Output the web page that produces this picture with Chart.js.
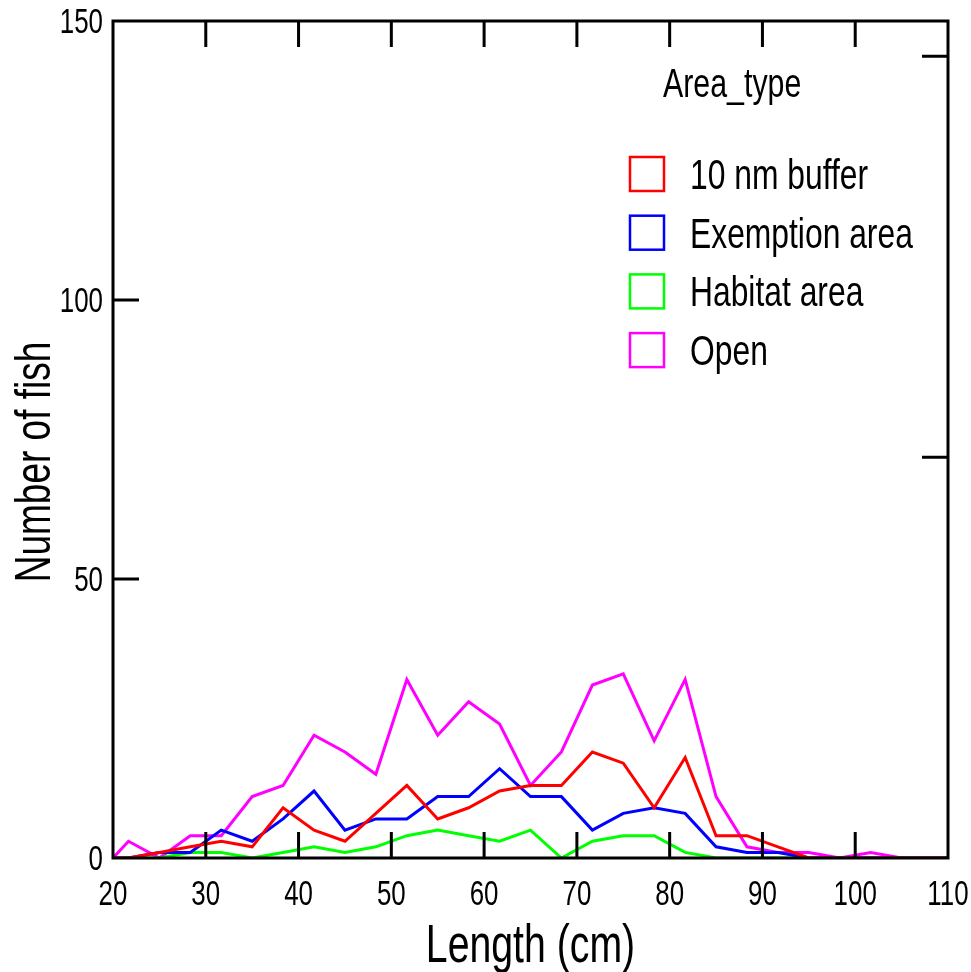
<!DOCTYPE html>
<html>
<head>
<meta charset="utf-8">
<script src="https://cdn.jsdelivr.net/npm/chart.js@4/dist/chart.umd.min.js"></script>
<style>
    html, body { margin: 0; padding: 0; background: #fff; }
    #wrap { width: 971px; height: 972px; }
</style>
</head>
<body>
<div id="wrap"><canvas id="lengthChart" width="971" height="972"></canvas></div>
<script>
// ─────────────────────────────────────────────
// DATA
// ─────────────────────────────────────────────
const lengths = [20, 21.67, 25, 28.33, 31.67, 35, 38.33, 41.67, 45, 48.33, 51.67, 55, 58.33,
    61.67, 65, 68.33, 71.67, 75, 78.33, 81.67, 85, 88.33, 91.67, 95, 98.33, 101.67, 105, 108.33, 110];

const buffer10nm = [0, 0, 1, 2, 3, 2, 9, 5, 3, 8, 13, 7, 9, 12, 13, 13, 19, 17, 9, 18, 4, 4, 2, 0, 0, 0, 0, 0, 0];
const exemption  = [0, 0, 1, 1, 5, 3, 7, 12, 5, 7, 7, 11, 11, 16, 11, 11, 5, 8, 9, 8, 2, 1, 1, 0, 0, 0, 0, 0, 0];
const habitat    = [0, 0, 0, 1, 1, 0, 1, 2, 1, 2, 4, 5, 4, 3, 5, 0, 3, 4, 4, 1, 0, 0, 0, 0, 0, 0, 0, 0, 0];
const openArea   = [0, 3, 0, 4, 4, 11, 13, 22, 19, 15, 32, 22, 28, 24, 13, 19, 31, 33, 21, 32, 11, 2, 1, 1, 0, 1, 0, 0, 0];

const seriesLabels = ['10 nm buffer', 'Exemption area', 'Habitat area', 'Open'];
const seriesColors = ['#ff0000', '#0000ff', '#00ff00', '#ff00ff'];

const xLabels = [20, 30, 40, 50, 60, 70, 80, 90, 100, 110];
const yLabels = [0, 50, 100, 150];
const xTicks = [30, 40, 50, 60, 70, 80, 90, 100];
const yTicks = [50, 100];
const rightTicks = [71.8, 143.7];

// narrow look: Liberation Sans squeezed horizontally
const FONT = "'Liberation Sans', Arial, sans-serif";
const SQUEEZE = 0.74;

function toPoints(values) {
    return values.map((v, i) => ({ x: lengths[i], y: v }));
}

function narrowText(ctx, text, x, y, size, align, baseline, rot) {
    ctx.save();
    ctx.translate(x, y);
    if (rot) ctx.rotate(rot);
    ctx.scale(SQUEEZE, 1);
    ctx.font = size + 'px ' + FONT;
    ctx.textAlign = align;
    ctx.textBaseline = baseline;
    ctx.fillStyle = '#000';
    ctx.fillText(text, 0, 0);
    ctx.restore();
}

// ─────────────────────────────────────────────
// FRAME, INSIDE TICKS, LABELS
// ─────────────────────────────────────────────
const framePlugin = {
    id: 'frame',
    afterDraw(chart) {
        const ctx = chart.ctx;
        const a = chart.chartArea;
        const xs = chart.scales.x;
        const ys = chart.scales.y;
        const len = 26;
        ctx.save();
        ctx.strokeStyle = '#000';
        ctx.lineWidth = 3;
        ctx.strokeRect(a.left, a.top, a.right - a.left, a.bottom - a.top);
        ctx.beginPath();
        xTicks.forEach(v => {
            const px = xs.getPixelForValue(v);
            ctx.moveTo(px, a.bottom); ctx.lineTo(px, a.bottom - len);
            ctx.moveTo(px, a.top); ctx.lineTo(px, a.top + len);
        });
        yTicks.forEach(v => {
            const py = ys.getPixelForValue(v);
            ctx.moveTo(a.left, py); ctx.lineTo(a.left + len, py);
        });
        rightTicks.forEach(v => {
            const py = ys.getPixelForValue(v);
            ctx.moveTo(a.right, py); ctx.lineTo(a.right - len, py);
        });
        ctx.stroke();
        ctx.restore();

        xLabels.forEach(v => narrowText(ctx, String(v), xs.getPixelForValue(v), 905, 35, 'center', 'alphabetic'));
        yLabels.forEach(v => narrowText(ctx, String(v), 103, ys.getPixelForValue(v) + 12, 35, 'right', 'alphabetic'));

        narrowText(ctx, 'Length (cm)', (a.left + a.right) / 2, 962, 53, 'center', 'alphabetic');
        narrowText(ctx, 'Number of fish', 50, 462, 50, 'center', 'alphabetic', -Math.PI / 2);
    }
};

// ─────────────────────────────────────────────
// LEGEND (inside plot, top right)
// ─────────────────────────────────────────────
const legendPlugin = {
    id: 'insideLegend',
    afterDraw(chart) {
        const ctx = chart.ctx;
        narrowText(ctx, 'Area_type', 663, 97, 41, 'left', 'alphabetic');
        chart.data.datasets.forEach((ds, i) => {
            const base = 189 + i * 58.7;
            ctx.save();
            ctx.strokeStyle = ds.borderColor;
            ctx.lineWidth = 2.5;
            ctx.strokeRect(630, base - 32, 34, 34);
            ctx.restore();
            narrowText(ctx, ds.label, 690, base, 43, 'left', 'alphabetic');
        });
    }
};

const datasets = [buffer10nm, exemption, habitat, openArea].map((vals, i) => ({
    label: seriesLabels[i],
    data: toPoints(vals),
    borderColor: seriesColors[i],
    backgroundColor: seriesColors[i],
    borderWidth: 3,
    pointRadius: 0,
    tension: 0,
    fill: false
}));

new Chart(document.getElementById('lengthChart').getContext('2d'), {
    type: 'line',
    data: { datasets: datasets },
    plugins: [framePlugin, legendPlugin],
    options: {
        responsive: false,
        animation: false,
        layout: { padding: { top: 21, right: 23, left: 0, bottom: 0 } },
        plugins: { legend: { display: false }, tooltip: { enabled: false } },
        scales: {
            x: {
                type: 'linear',
                min: 20,
                max: 110,
                afterFit(scale) { scale.height = 114; },
                grid: { display: false },
                border: { display: false },
                ticks: { display: false }
            },
            y: {
                min: 0,
                max: 150,
                afterFit(scale) { scale.width = 113; },
                grid: { display: false },
                border: { display: false },
                ticks: { display: false }
            }
        }
    }
});
</script>
</body>
</html>
